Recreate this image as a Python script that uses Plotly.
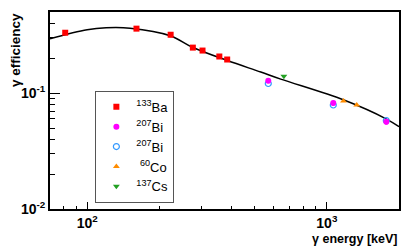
import plotly.graph_objects as go

# Data
ba_e = [81, 160.6, 223, 276, 302.9, 356, 383.9]
ba_eff = [0.332, 0.36, 0.319, 0.247, 0.233, 0.207, 0.195]
ba_err = [0.012, 0.016, 0.016, 0.006, 0.006, 0.006, 0.006]

bi_e = [569.7, 1063.7, 1770.2]
bi_eff = [0.128, 0.082, 0.0565]
bi_err = [0.006, 0.004, 0.003]

bi2_e = [569.7, 1063.7, 1770.2]
bi2_eff = [0.121, 0.079, 0.058]

co_e = [1173.2, 1332.5]
co_eff = [0.0855, 0.079]

cs_e = [661.7]
cs_eff = [0.14]

fit_e = [70, 100, 120, 151, 222, 275, 385, 530, 642, 1178, 1766, 2000]
fit_eff = [0.295, 0.352, 0.366, 0.363, 0.313, 0.249, 0.191, 0.152, 0.132, 0.0871, 0.060, 0.0513]

x_tickvals = [100, 1000]
x_ticktext = ["<b>10<sup>2</sup></b>", "<b>10<sup>3</sup></b>"]
y_tickvals = [0.01, 0.1]
y_ticktext = ["<b>10<sup>-2</sup></b>", "<b>10<sup>-1</sup></b>"]

x_minor = [70, 80, 90, 200, 300, 400, 500, 600, 700, 800, 900, 2000]
y_minor = [0.02, 0.03, 0.04, 0.05, 0.06, 0.07, 0.08, 0.09, 0.2, 0.3, 0.4, 0.5]

fig = go.Figure()
fig.add_trace(go.Scatter(x=fit_e, y=fit_eff, mode="lines", line=dict(color="black", width=1.5, shape="spline"),
                         showlegend=False, hoverinfo="skip"))
fig.add_trace(go.Scatter(x=ba_e, y=ba_eff, mode="markers", name="<sup>133</sup>Ba",
                         marker=dict(symbol="square", color="red", size=6),
                         error_y=dict(type="data", array=ba_err, color="red", thickness=2.5, width=0)))
fig.add_trace(go.Scatter(x=bi2_e, y=bi2_eff, mode="markers", name="<sup>207</sup>Bi ",
                         marker=dict(symbol="circle-open", color="#3399ff", size=6, line=dict(width=1.2)),
                         showlegend=False))
fig.add_trace(go.Scatter(x=bi_e, y=bi_eff, mode="markers", name="<sup>207</sup>Bi",
                         marker=dict(symbol="circle", color="magenta", size=6),
                         error_y=dict(type="data", array=bi_err, color="magenta", thickness=2.5, width=0)))
fig.add_trace(go.Scatter(x=[None], y=[None], mode="markers", name="<sup>207</sup>Bi",
                         marker=dict(symbol="circle-open", color="#3399ff", size=6, line=dict(width=1.2))))
fig.add_trace(go.Scatter(x=co_e, y=co_eff, mode="markers", name=" <sup>60</sup>Co",
                         marker=dict(symbol="triangle-up", color="darkorange", size=6)))
fig.add_trace(go.Scatter(x=cs_e, y=cs_eff, mode="markers", name="<sup>137</sup>Cs",
                         marker=dict(symbol="triangle-down", color="#22a022", size=6)))

axis_common = dict(showline=True, linecolor="black", linewidth=2, mirror=True, showgrid=False,
                   zeroline=False, ticks="inside", tickcolor="black", tickwidth=1,
                   tickfont=dict(family="Liberation Sans", size=14, color="black"))

fig.update_xaxes(type="log", range=[1.845, 3.301], tickmode="array", tickvals=x_tickvals,
                 ticktext=x_ticktext, ticklen=7,
                 minor=dict(tickmode="array", tickvals=x_minor, ticks="inside", ticklen=3,
                            tickcolor="black", showgrid=False),
                 **axis_common)
fig.update_yaxes(type="log", range=[-2, -0.3], tickmode="array", tickvals=y_tickvals,
                 ticktext=y_ticktext, ticklen=10,
                 minor=dict(tickmode="array", tickvals=y_minor, ticks="inside", ticklen=5,
                            tickcolor="black", showgrid=False),
                 **axis_common)

fig.add_annotation(text="<b>γ energy [keV]</b>", xref="paper", yref="paper", x=1.0, y=-0.15,
                   xanchor="right", yanchor="middle", showarrow=False,
                   font=dict(family="Liberation Sans", size=12.5, color="black"))
fig.add_annotation(text="<b>γ efficiency</b>", xref="paper", yref="paper", x=-0.1, y=1.005,
                   xanchor="center", yanchor="top", textangle=-90, showarrow=False,
                   font=dict(family="Liberation Sans", size=13.5, color="black"))

# page body adds an 8px offset; size the figure so the plot frame lands where the reference's does
fig.update_layout(
    width=407, height=238,
    margin=dict(l=42, r=16, t=2, b=37),
    paper_bgcolor="white", plot_bgcolor="white",
    showlegend=True,
    legend=dict(x=0.13, y=0.6, xanchor="left", yanchor="top", bgcolor="white",
                bordercolor="#555555", borderwidth=1, tracegroupgap=0, itemwidth=30,
                font=dict(family="Liberation Sans", size=13, color="black")),
)

fig.write_html("out.html")
